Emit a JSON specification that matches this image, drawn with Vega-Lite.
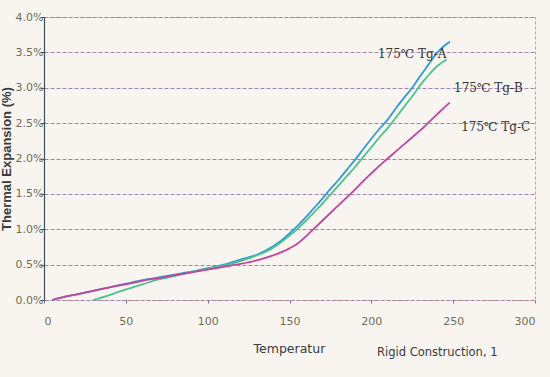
{
  "$schema": "https://vega.github.io/schema/vega-lite/v6.json",
  "width": 491,
  "height": 283,
  "autosize": {"type": "none"},
  "padding": {"left": 44, "top": 17, "right": 15, "bottom": 77},
  "background": "#f8f5f0",
  "config": {
    "view": {"stroke": "#d8a070", "strokeDash": [3, 2], "strokeWidth": 1},
    "font": "DejaVu Sans"
  },
  "datasets": {
    "curves": [
      {"series": "Tg-A", "t": 5, "e": 0.00}, {"series": "Tg-A", "t": 10, "e": 0.03}, {"series": "Tg-A", "t": 20, "e": 0.08},
      {"series": "Tg-A", "t": 30, "e": 0.13}, {"series": "Tg-A", "t": 40, "e": 0.18}, {"series": "Tg-A", "t": 50, "e": 0.23},
      {"series": "Tg-A", "t": 60, "e": 0.28}, {"series": "Tg-A", "t": 70, "e": 0.32}, {"series": "Tg-A", "t": 80, "e": 0.36},
      {"series": "Tg-A", "t": 90, "e": 0.40}, {"series": "Tg-A", "t": 100, "e": 0.45}, {"series": "Tg-A", "t": 110, "e": 0.50},
      {"series": "Tg-A", "t": 120, "e": 0.57}, {"series": "Tg-A", "t": 130, "e": 0.64}, {"series": "Tg-A", "t": 140, "e": 0.76},
      {"series": "Tg-A", "t": 145, "e": 0.84}, {"series": "Tg-A", "t": 150, "e": 0.94}, {"series": "Tg-A", "t": 155, "e": 1.05},
      {"series": "Tg-A", "t": 160, "e": 1.17}, {"series": "Tg-A", "t": 165, "e": 1.30}, {"series": "Tg-A", "t": 170, "e": 1.43},
      {"series": "Tg-A", "t": 175, "e": 1.57}, {"series": "Tg-A", "t": 180, "e": 1.70}, {"series": "Tg-A", "t": 185, "e": 1.84},
      {"series": "Tg-A", "t": 190, "e": 1.98}, {"series": "Tg-A", "t": 195, "e": 2.13}, {"series": "Tg-A", "t": 200, "e": 2.28},
      {"series": "Tg-A", "t": 205, "e": 2.42}, {"series": "Tg-A", "t": 210, "e": 2.55}, {"series": "Tg-A", "t": 215, "e": 2.71},
      {"series": "Tg-A", "t": 220, "e": 2.86}, {"series": "Tg-A", "t": 225, "e": 3.00}, {"series": "Tg-A", "t": 230, "e": 3.17},
      {"series": "Tg-A", "t": 235, "e": 3.33}, {"series": "Tg-A", "t": 240, "e": 3.49}, {"series": "Tg-A", "t": 245, "e": 3.60},
      {"series": "Tg-A", "t": 248, "e": 3.65},

      {"series": "Tg-B", "t": 30, "e": 0.00}, {"series": "Tg-B", "t": 40, "e": 0.07}, {"series": "Tg-B", "t": 50, "e": 0.15},
      {"series": "Tg-B", "t": 60, "e": 0.22}, {"series": "Tg-B", "t": 70, "e": 0.29}, {"series": "Tg-B", "t": 80, "e": 0.34},
      {"series": "Tg-B", "t": 90, "e": 0.39}, {"series": "Tg-B", "t": 100, "e": 0.44}, {"series": "Tg-B", "t": 110, "e": 0.49},
      {"series": "Tg-B", "t": 120, "e": 0.55}, {"series": "Tg-B", "t": 130, "e": 0.63}, {"series": "Tg-B", "t": 140, "e": 0.74},
      {"series": "Tg-B", "t": 145, "e": 0.82}, {"series": "Tg-B", "t": 150, "e": 0.91}, {"series": "Tg-B", "t": 155, "e": 1.01},
      {"series": "Tg-B", "t": 160, "e": 1.12}, {"series": "Tg-B", "t": 165, "e": 1.24}, {"series": "Tg-B", "t": 170, "e": 1.36},
      {"series": "Tg-B", "t": 175, "e": 1.49}, {"series": "Tg-B", "t": 180, "e": 1.62}, {"series": "Tg-B", "t": 185, "e": 1.75},
      {"series": "Tg-B", "t": 190, "e": 1.88}, {"series": "Tg-B", "t": 195, "e": 2.02}, {"series": "Tg-B", "t": 200, "e": 2.16},
      {"series": "Tg-B", "t": 205, "e": 2.30}, {"series": "Tg-B", "t": 210, "e": 2.43}, {"series": "Tg-B", "t": 215, "e": 2.58},
      {"series": "Tg-B", "t": 220, "e": 2.73}, {"series": "Tg-B", "t": 225, "e": 2.88}, {"series": "Tg-B", "t": 230, "e": 3.04},
      {"series": "Tg-B", "t": 235, "e": 3.18}, {"series": "Tg-B", "t": 240, "e": 3.30}, {"series": "Tg-B", "t": 246, "e": 3.40},

      {"series": "Tg-C", "t": 5, "e": 0.00}, {"series": "Tg-C", "t": 10, "e": 0.03}, {"series": "Tg-C", "t": 20, "e": 0.08},
      {"series": "Tg-C", "t": 30, "e": 0.13}, {"series": "Tg-C", "t": 40, "e": 0.18}, {"series": "Tg-C", "t": 50, "e": 0.22},
      {"series": "Tg-C", "t": 60, "e": 0.27}, {"series": "Tg-C", "t": 70, "e": 0.31}, {"series": "Tg-C", "t": 80, "e": 0.35},
      {"series": "Tg-C", "t": 90, "e": 0.39}, {"series": "Tg-C", "t": 100, "e": 0.43}, {"series": "Tg-C", "t": 110, "e": 0.47},
      {"series": "Tg-C", "t": 120, "e": 0.51}, {"series": "Tg-C", "t": 130, "e": 0.56}, {"series": "Tg-C", "t": 140, "e": 0.63},
      {"series": "Tg-C", "t": 150, "e": 0.73}, {"series": "Tg-C", "t": 155, "e": 0.80}, {"series": "Tg-C", "t": 160, "e": 0.90},
      {"series": "Tg-C", "t": 165, "e": 1.01}, {"series": "Tg-C", "t": 170, "e": 1.12}, {"series": "Tg-C", "t": 175, "e": 1.23},
      {"series": "Tg-C", "t": 180, "e": 1.34}, {"series": "Tg-C", "t": 185, "e": 1.45}, {"series": "Tg-C", "t": 190, "e": 1.56},
      {"series": "Tg-C", "t": 195, "e": 1.68}, {"series": "Tg-C", "t": 200, "e": 1.79}, {"series": "Tg-C", "t": 205, "e": 1.90},
      {"series": "Tg-C", "t": 210, "e": 2.00}, {"series": "Tg-C", "t": 215, "e": 2.10}, {"series": "Tg-C", "t": 220, "e": 2.20},
      {"series": "Tg-C", "t": 225, "e": 2.30}, {"series": "Tg-C", "t": 230, "e": 2.40}, {"series": "Tg-C", "t": 235, "e": 2.51},
      {"series": "Tg-C", "t": 240, "e": 2.62}, {"series": "Tg-C", "t": 245, "e": 2.73}, {"series": "Tg-C", "t": 248, "e": 2.79}
    ],
    "labels": [
      {"series": "Tg-A", "label": "175℃ Tg-A", "t": 225, "e": 3.48},
      {"series": "Tg-B", "label": "175℃ Tg-B", "t": 271.5, "e": 2.99},
      {"series": "Tg-C", "label": "175℃ Tg-C", "t": 276, "e": 2.44}
    ]
  },
  "title": {
    "text": "Rigid Construction, 1",
    "orient": "bottom",
    "anchor": "start",
    "dx": 377,
    "offset": -8,
    "fontSize": 11.5,
    "fontWeight": "normal",
    "color": "#3a3a3a",
    "font": "DejaVu Sans"
  },
  "encoding": {
    "x": {
      "field": "t", "type": "quantitative",
      "scale": {"domain": [0, 300], "nice": false},
      "axis": {
        "values": [0, 50, 100, 150, 200, 250, 300],
        "title": "Temperatur",
        "titleFont": "DejaVu Sans",
        "titleFontSize": 12.5, "titleFontWeight": "normal", "titleColor": "#3a3a3a",
        "titleAnchor": "start", "titleX": 209, "titleAlign": "left", "titlePadding": 16,
        "labelFontSize": 11, "labelColor": "#6e6e58", "labelPadding": 12,
        "domain": false, "grid": false,
        "ticks": true, "tickSize": 3, "tickColor": "#7a7090"
      }
    },
    "y": {
      "field": "e", "type": "quantitative",
      "scale": {"domain": [0, 4], "nice": false},
      "axis": {
        "values": [0, 0.5, 1, 1.5, 2, 2.5, 3, 3.5, 4],
        "labelExpr": "format(datum.value, '.1f') + '%'",
        "labelOverlap": false,
        "title": "Thermal Expansion (%)",
        "titleFont": "Liberation Sans",
        "titleFontSize": 13, "titleFontWeight": "bold", "titleColor": "#3a3a3a",
        "titlePadding": 2,
        "labelFontSize": 11, "labelColor": "#6e6e58", "labelPadding": -3,
        "domain": true, "domainColor": "#3f4f58", "domainWidth": 1.2,
        "ticks": true, "tickSize": 4, "tickColor": "#3f4f58",
        "grid": true, "gridColor": "#a482b0", "gridDash": [4, 2], "gridWidth": 1.1
      }
    }
  },
  "layer": [
    {
      "data": {"name": "curves"},
      "mark": {"type": "line", "strokeWidth": 1.8, "interpolate": "monotone"},
      "encoding": {
        "color": {
          "field": "series", "type": "nominal",
          "scale": {"domain": ["Tg-A", "Tg-B", "Tg-C"], "range": ["#2f9ad8", "#4cc28e", "#c2449c"]},
          "legend": null
        }
      }
    },
    {
      "data": {"name": "labels"},
      "mark": {"type": "text", "font": "DejaVu Serif", "fontSize": 12, "color": "#333333", "align": "center", "baseline": "middle"},
      "encoding": {
        "text": {"field": "label"}
      }
    }
  ]
}
